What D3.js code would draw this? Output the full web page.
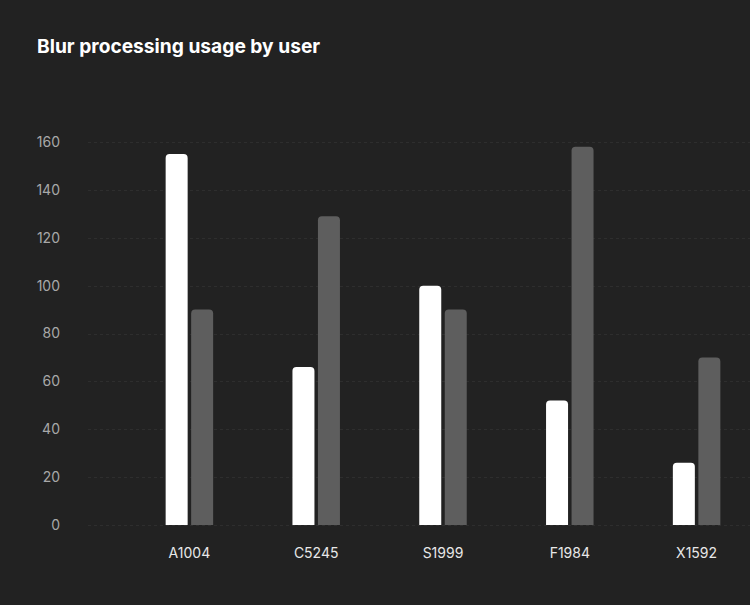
<!DOCTYPE html>
<html><head><meta charset="utf-8">
<script src="https://cdn.jsdelivr.net/npm/d3@7"></script>
<style>html,body{margin:0;padding:0;background:#222222;}svg{display:block;}</style>
</head><body><svg id="chart" width="750" height="605"></svg>
<script>
const categories = ["A1004", "C5245", "S1999", "F1984", "X1592"];
const seriesA = [155, 66, 100, 52, 26];
const seriesB = [90, 129, 90, 158, 70];
const yTicks = [0, 20, 40, 60, 80, 100, 120, 140, 160];
const title = "Blur processing usage by user";

const svg = d3.select("#chart");
svg.append("rect").attr("width", 750).attr("height", 605).attr("fill", "#222222");

svg.append("text").attr("x", 37).attr("y", 53)
  .attr("font-family", "Inter, 'Noto Sans', sans-serif").attr("font-weight", 700)
  .attr("font-size", 19.2).attr("fill", "#ffffff")
  .text(title);

const y = d3.scaleLinear().domain([0, 160]).range([525, 142]);
const x = d3.scaleBand().domain(categories).range([126, 760]).padding(0);
const barW = 22, gap = 3.5;

// grid
const grid = svg.append("g");
grid.selectAll("line").data(yTicks).join("line")
  .attr("x1", 88).attr("x2", 750)
  .attr("y1", d => Math.round(y(d)) + 0.5).attr("y2", d => Math.round(y(d)) + 0.5)
  .attr("stroke", "#2e2e2e").attr("stroke-width", 1).attr("stroke-dasharray", "3,3");

// y axis
const yAxis = d3.axisLeft(y).tickValues(yTicks).tickSize(0).tickPadding(0);
const ga = svg.append("g").attr("transform", "translate(60,0)").call(yAxis);
ga.select(".domain").remove();
ga.selectAll("text").attr("font-family", "Inter, 'Noto Sans', sans-serif")
  .attr("font-size", 14).attr("fill", "#a8a8a8");

// x axis
const xAxis = d3.axisBottom(x).tickSize(0).tickPadding(0);
const gx = svg.append("g").attr("transform", "translate(0,548)").call(xAxis);
gx.select(".domain").remove();
gx.selectAll("text").attr("font-family", "Inter, 'Noto Sans', sans-serif")
  .attr("font-size", 14).attr("fill", "#e8e8e8");

function barPath(x0, w, top, bottom, r) {
  r = Math.min(r, (bottom - top), w / 2);
  return `M${x0},${bottom}V${top + r}Q${x0},${top} ${x0 + r},${top}H${x0 + w - r}Q${x0 + w},${top} ${x0 + w},${top + r}V${bottom}Z`;
}

const cx = d => x(d) + x.bandwidth() / 2;
svg.append("g").selectAll("path").data(categories).join("path")
  .attr("d", (d, i) => barPath(cx(d) - gap / 2 - barW, barW, y(seriesA[i]), y(0), 4))
  .attr("fill", "#ffffff");
svg.append("g").selectAll("path").data(categories).join("path")
  .attr("d", (d, i) => barPath(cx(d) + gap / 2, barW, y(seriesB[i]), y(0), 4))
  .attr("fill", "#5e5e5e");
</script></body></html>
